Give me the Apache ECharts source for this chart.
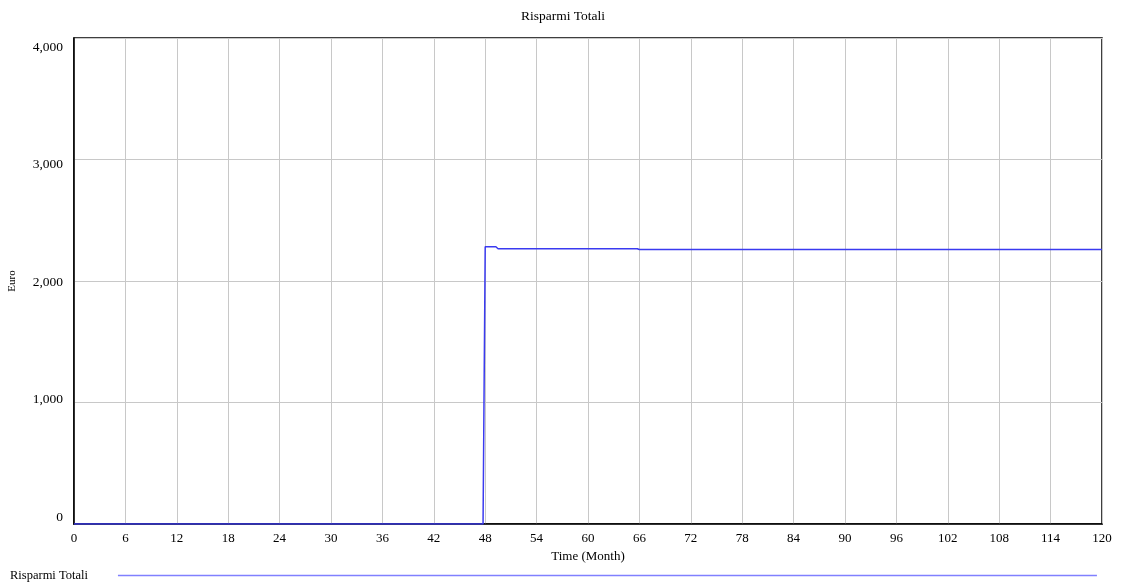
<!DOCTYPE html>
<html>
<head>
<meta charset="utf-8">
<script src="https://cdn.jsdelivr.net/npm/echarts@6/dist/echarts.min.js"></script>
<style>html,body{margin:0;padding:0;background:#fff;}#c{width:1126px;height:585px;}</style>
</head>
<body>
<div id="c"></div>
<script>
var timeMonths = [0, 47.75, 48, 49.25, 49.5, 65.75, 66, 120];
var risparmiTotali = [0, 0, 2282, 2282, 2266, 2266, 2259, 2259];
var seriesName = 'Risparmi Totali';

var chart = echarts.init(document.getElementById('c'));
var font = 'Liberation Serif';
// vertical nudge of y tick labels (px, positive = down), as in the reference
var yLabelShift = {0: -7, 1000: -3, 2000: 1, 3000: 5, 4000: 9};
var rich = {};
Object.keys(yLabelShift).forEach(function (k) {
  var d = yLabelShift[k];
  rich['s' + k] = {
    fontFamily: font, fontSize: 13.5, color: '#000',
    padding: d >= 0 ? [2 * d, 0, 0, 0] : [0, 0, -2 * d, 0]
  };
});
chart.setOption({
  animation: false,
  backgroundColor: '#fff',
  title: {
    text: 'Risparmi Totali', left: 'center', top: 4,
    textStyle: {fontFamily: font, fontSize: 13.5, fontWeight: 'normal', color: '#000'}
  },
  legend: {
    left: 10, bottom: 3, padding: 0, align: 'right', icon: 'rect',
    itemWidth: 979, itemHeight: 1.5,
    textStyle: {fontFamily: font, fontSize: 12.5, color: '#000', padding: [0, 25, 0, 0]},
    itemStyle: {color: '#8080ff'},
    data: [seriesName]
  },
  grid: {left: 74, right: 24, top: 38, bottom: 61, outerBoundsMode: 'none', containLabel: false,
    show: true, borderColor: '#000', borderWidth: 1.5},
  xAxis: {
    type: 'value', min: 0, max: 120, interval: 6,
    name: 'Time (Month)', nameLocation: 'middle', nameGap: 26,
    nameTextStyle: {fontFamily: font, fontSize: 13, color: '#000'},
    axisLine: {show: true, lineStyle: {color: '#000', width: 1.5}},
    axisTick: {show: false},
    axisLabel: {fontFamily: font, fontSize: 13, color: '#000', margin: 8},
    splitLine: {show: true, lineStyle: {color: '#c8c8c8', width: 1}}
  },
  yAxis: {
    type: 'value', min: 0, max: 4000, interval: 1000,
    name: 'Euro', nameLocation: 'middle', nameGap: 56, nameRotate: 90,
    nameTextStyle: {fontFamily: font, fontSize: 11, color: '#000'},
    axisLine: {show: true, lineStyle: {color: '#000', width: 1.5}},
    axisTick: {show: false},
    axisLabel: {fontFamily: font, fontSize: 13.5, color: '#000', margin: 11, rich: rich,
      formatter: function (v) { return '{s' + v + '|' + v.toLocaleString('en-US') + '}'; }},
    splitLine: {show: true, lineStyle: {color: '#c8c8c8', width: 1}}
  },
  series: [{
    name: seriesName, type: 'line', showSymbol: false,
    data: timeMonths.map(function (t, i) { return [t, risparmiTotali[i]]; }),
    lineStyle: {color: '#3a3af0', width: 1.5},
    itemStyle: {color: '#8080ff'}
  }]
});
</script>
</body>
</html>
